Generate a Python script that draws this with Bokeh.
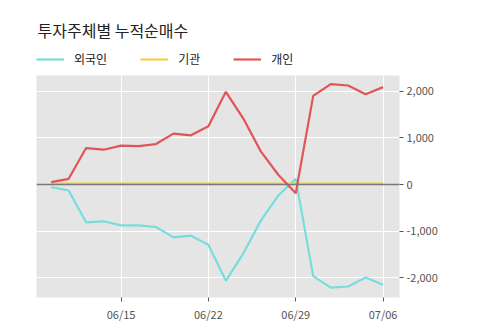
from bokeh.plotting import figure
from bokeh.embed import file_html
from bokeh.resources import INLINE
from bokeh.layouts import column
from bokeh.models import (ColumnDataSource, FixedTicker, NumeralTickFormatter,
                          Legend, LegendItem, Span, Range1d, Label)

dates = ["06/09", "06/10", "06/11", "06/12", "06/15", "06/16", "06/17", "06/18", "06/19",
         "06/22", "06/23", "06/24", "06/25", "06/26", "06/29", "06/30", "07/01", "07/02",
         "07/03", "07/06"]
foreign = [-58, -129, -813, -791, -878, -878, -914, -1137, -1101, -1295,
           -2072, -1482, -777, -237, 122, -1971, -2216, -2194, -2000, -2158]
institution = [20, 20, 20, 20, 20, 20, 20, 20, 20, 20, 20, 20, 20, 20, 20, 20, 20, 20, 20, 20]
individual = [50, 122, 784, 748, 835, 827, 870, 1094, 1058, 1252,
              1993, 1417, 712, 209, -187, 1906, 2158, 2129, 1942, 2094]
tick_labels = ["06/15", "06/22", "06/29", "07/06"]
y_ticks = [-2000, -1000, 0, 1000, 2000]
series_names = ["외국인", "기관", "개인"]
title_text = "투자주체별 누적순매수"

FONT = "Noto Sans CJK KR"
COLORS = ["#79dcdc", "#f7cf45", "#e05656"]
x = list(range(len(dates)))
src = ColumnDataSource(dict(x=x, foreign=foreign, institution=institution,
                            individual=individual))
cols = ["foreign", "institution", "individual"]

# ---- header: title + legend (frame is aligned with the chart's frame, left = 36px) ----
HEAD_H = 75
head = figure(width=500, height=HEAD_H, output_backend="svg", toolbar_location=None,
              x_range=Range1d(1000, 1001), y_range=Range1d(0, 1),
              min_border_left=0, min_border_right=0, min_border_top=0,
              min_border_bottom=0)
head.axis.visible = False
head.grid.visible = False
head.outline_line_color = None
head.background_fill_color = "white"
head.border_fill_color = "white"
hr = [head.line("x", c, source=src, line_color=col, line_width=2.2)
      for c, col in zip(cols, COLORS)]
head.add_layout(Label(x=1, y=HEAD_H - 17, x_units="screen", y_units="screen",
                      text=title_text, text_font=FONT, text_font_size="16px",
                      text_color="#222222", text_baseline="top", text_align="left"))
legend = Legend(items=[LegendItem(label=n, renderers=[r]) for n, r in zip(series_names, hr)],
                orientation="horizontal", location=(0, 8),
                label_text_font=FONT, label_text_font_size="12px",
                label_text_color="#222222",
                glyph_width=28, glyph_height=12, label_standoff=10, spacing=33,
                padding=0, margin=0,
                background_fill_alpha=0, border_line_color=None)
head.add_layout(legend)

# ---- main chart ----
p = figure(width=500, height=323 - HEAD_H, output_backend="svg", toolbar_location=None,
           x_range=Range1d(-0.84, 19.94), y_range=Range1d(-2430, 2344),
           y_axis_location="right", frame_width=363, frame_height=222,
           min_border_left=36, min_border_right=101, min_border_top=0,
           min_border_bottom=26)

p.background_fill_color = "#e5e5e5"
p.border_fill_color = "white"
p.outline_line_color = None
p.grid.grid_line_color = "white"
p.grid.grid_line_width = 1

lines = {}
for c, col in zip(cols, COLORS):
    lw = 2.0 if c == "institution" else 2.2
    lines[c] = p.line("x", c, source=src, line_color=col, line_width=lw)

zero = Span(location=0, dimension="width", line_color="#7a7a7a", line_width=1.3)
p.add_layout(zero)

tick_pos = [dates.index(t) for t in tick_labels]
p.xaxis.ticker = FixedTicker(ticks=tick_pos)
p.xaxis.major_label_overrides = {i: dates[i] for i in tick_pos}
p.yaxis.ticker = FixedTicker(ticks=y_ticks)
p.yaxis.formatter = NumeralTickFormatter(format="0,0")

for ax in (p.xaxis, p.yaxis):
    ax.axis_line_color = None
    ax.major_tick_line_color = "#555555"
    ax.major_tick_in = 0
    ax.major_tick_out = 4
    ax.minor_tick_line_color = None
    ax.major_label_text_font = FONT
    ax.major_label_text_font_size = "11px"
    ax.major_label_text_color = "#555555"
p.xaxis.major_label_standoff = 4
p.yaxis.major_label_standoff = 3

layout = column(head, p, spacing=0)
open("out.html", "w").write(file_html(layout, INLINE))
